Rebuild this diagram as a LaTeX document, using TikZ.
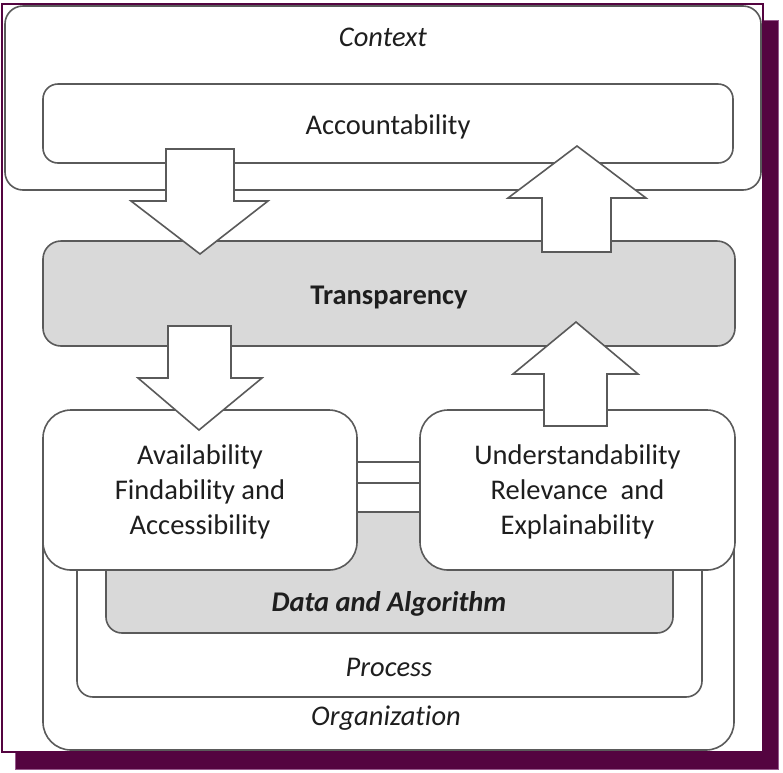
\documentclass[tikz,border=0pt]{standalone}
\usepackage{fontspec}
\setmainfont{Carlito}[Ligatures=CommonOff]
\begin{document}
\begin{tikzpicture}[x=1pt,y=-1pt]
\definecolor{plum}{RGB}{84,4,64}
\definecolor{plumline}{RGB}{150,90,140}
\definecolor{edge}{RGB}{90,90,90}
\definecolor{fillgray}{RGB}{217,217,217}
\definecolor{txt}{RGB}{30,30,30}
\tikzset{
  box/.style={draw=edge, line width=1.6pt, fill=white, inner sep=0pt},
  graybox/.style={box, fill=fillgray},
  lbl/.style={text=txt, inner sep=0pt, align=center, font=\fontsize{28.5}{35}\selectfont},
  blockarrow/.style={draw=edge, line width=1.6pt, fill=white, line join=miter}
}
\useasboundingbox (0,0) rectangle (783,772);
% shadow and frame
\draw[fill=plum, draw=plumline, line width=0.8pt] (15,20) rectangle (778,769);
\draw[fill=white, draw=plum, line width=1.5pt] (2,4) rectangle (763,752);
% context
\node[box, rounded corners=18, minimum width=756, minimum height=184] (context) at (383,98) {};
\node[lbl, font=\fontsize{28.5}{35}\selectfont\itshape] (contextlbl) at (383,37) {Context};
% accountability
\node[box, rounded corners=15, minimum width=690, minimum height=79] (acc) at (388,123.5) {};
\node[lbl] (acclbl) at ([yshift=-3pt]acc.center) {Accountability};
% transparency
\node[graybox, rounded corners=18, minimum width=692, minimum height=105] (trans) at (389,293.5) {};
\node[lbl, font=\fontsize{28.5}{35}\selectfont\bfseries] (translbl) at ([yshift=-3.5pt]trans.center) {Transparency};
% organization / process / data
\node[box, rounded corners=28, minimum width=691, minimum height=288] (org) at (388.5,606) {};
\node[lbl, font=\fontsize{28.5}{35}\selectfont\itshape] (orglbl) at (386,718) {Organization};
\node[box, rounded corners=16, minimum width=625, minimum height=214] (proc) at (389.5,590) {};
\node[lbl, font=\fontsize{28.5}{35}\selectfont\itshape] (proclbl) at (389,667) {Process};
\node[graybox, rounded corners=16, minimum width=567, minimum height=121] (data) at (389.5,572.5) {};
\node[lbl, font=\fontsize{28.5}{35}\selectfont\bfseries\itshape] (datalbl) at (389,604) {Data and Algorithm};
% availability / understandability
\node[box, rounded corners=28, minimum width=314, minimum height=160] (avail) at (200,490) {};
\node[lbl] (availlbl) at ([yshift=-2pt]avail.center) {Availability\\Findability and\\Accessibility};
\node[box, rounded corners=28, minimum width=315, minimum height=160] (under) at (577.5,490) {};
\node[lbl] (underlbl) at ([yshift=-2pt]under.center) {Understandability\\Relevance\ \ and\\Explainability};
% block arrows
\draw[blockarrow] (166,149) -- (234,149) -- (234,201) -- (268,201) -- (200,254) -- (131,201) -- (166,201) -- cycle;
\draw[blockarrow] (542,252) -- (611,252) -- (611,198) -- (646,198) -- (577,146) -- (508,198) -- (542,198) -- cycle;
\draw[blockarrow] (168,326) -- (231,326) -- (231,378) -- (262,378) -- (199,430) -- (138,378) -- (168,378) -- cycle;
\draw[blockarrow] (544,426) -- (607,426) -- (607,374) -- (638,374) -- (576,322) -- (513,374) -- (544,374) -- cycle;
\end{tikzpicture}
\end{document}
